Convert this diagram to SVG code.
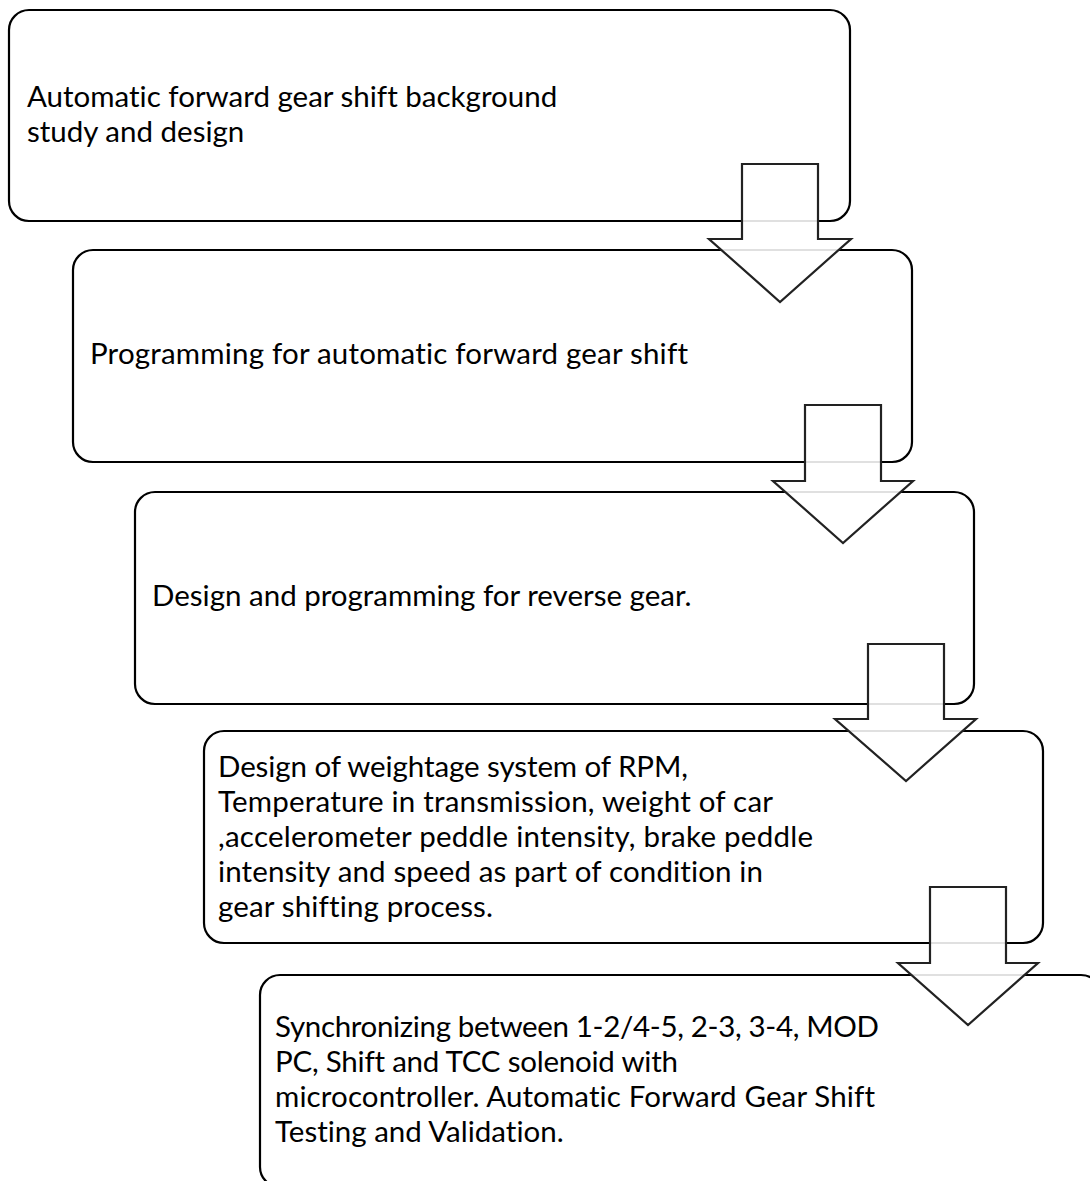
<svg xmlns="http://www.w3.org/2000/svg" width="1090" height="1181" viewBox="0 0 1090 1181">
  <style>
    .box { fill: #ffffff; stroke: #000000; stroke-width: 2.2; }
    .txt { font-family: Lato, "Liberation Sans", sans-serif; font-size: 29.5px; fill: #000000; font-variant-ligatures: none; font-feature-settings: "liga" 0; }
    .arrow { fill: #ffffff; fill-opacity: 0.88; stroke: #222222; stroke-width: 2.2; stroke-linejoin: miter; }
  </style>
  <rect x="0" y="0" width="1090" height="1181" fill="#ffffff"/>
  <g id="node1">
    <rect class="box" x="9" y="10" width="841" height="211" rx="20" ry="20"/>
    <text class="txt" x="27" y="107">Automatic forward gear shift background</text>
    <text class="txt" x="27" y="142">study and design</text>
  </g>
  <g id="node2">
    <rect class="box" x="73" y="250" width="839" height="212" rx="20" ry="20"/>
    <text class="txt" x="90" y="364" textLength="598">Programming for automatic forward gear shift</text>
  </g>
  <g id="node3">
    <rect class="box" x="135" y="492" width="839" height="212" rx="20" ry="20"/>
    <text class="txt" x="152" y="606">Design and programming for reverse gear.</text>
  </g>
  <g id="node4">
    <rect class="box" x="204" y="731" width="839" height="212" rx="20" ry="20"/>
    <text class="txt" x="218" y="777" textLength="470">Design of weightage system of RPM,</text>
    <text class="txt" x="218" y="812" textLength="555">Temperature in transmission, weight of car</text>
    <text class="txt" x="218" y="847" textLength="595">,accelerometer peddle intensity, brake peddle</text>
    <text class="txt" x="218" y="882" textLength="545">intensity and speed as part of condition in</text>
    <text class="txt" x="218" y="917" textLength="275">gear shifting process.</text>
  </g>
  <g id="node5">
    <rect class="box" x="260" y="975" width="841" height="212" rx="20" ry="20"/>
    <text class="txt" x="275" y="1037" textLength="604">Synchronizing between 1-2/4-5, 2-3, 3-4, MOD</text>
    <text class="txt" x="275" y="1072" textLength="403">PC, Shift and TCC solenoid with</text>
    <text class="txt" x="275" y="1107" textLength="600">microcontroller. Automatic Forward Gear Shift</text>
    <text class="txt" x="275" y="1142">Testing and Validation.</text>
  </g>
  <g id="connectors">
    <polygon class="arrow" points="742,164 818,164 818,239 851,239 780,302 709,239 742,239"/>
    <polygon class="arrow" points="805,405 881,405 881,481 913,481 843,543 773,481 805,481"/>
    <polygon class="arrow" points="868,644 944,644 944,719 976,719 906,781 835,719 868,719"/>
    <polygon class="arrow" points="930,887 1006,887 1006,963 1038,963 968,1025 898,963 930,963"/>
  </g>
</svg>
